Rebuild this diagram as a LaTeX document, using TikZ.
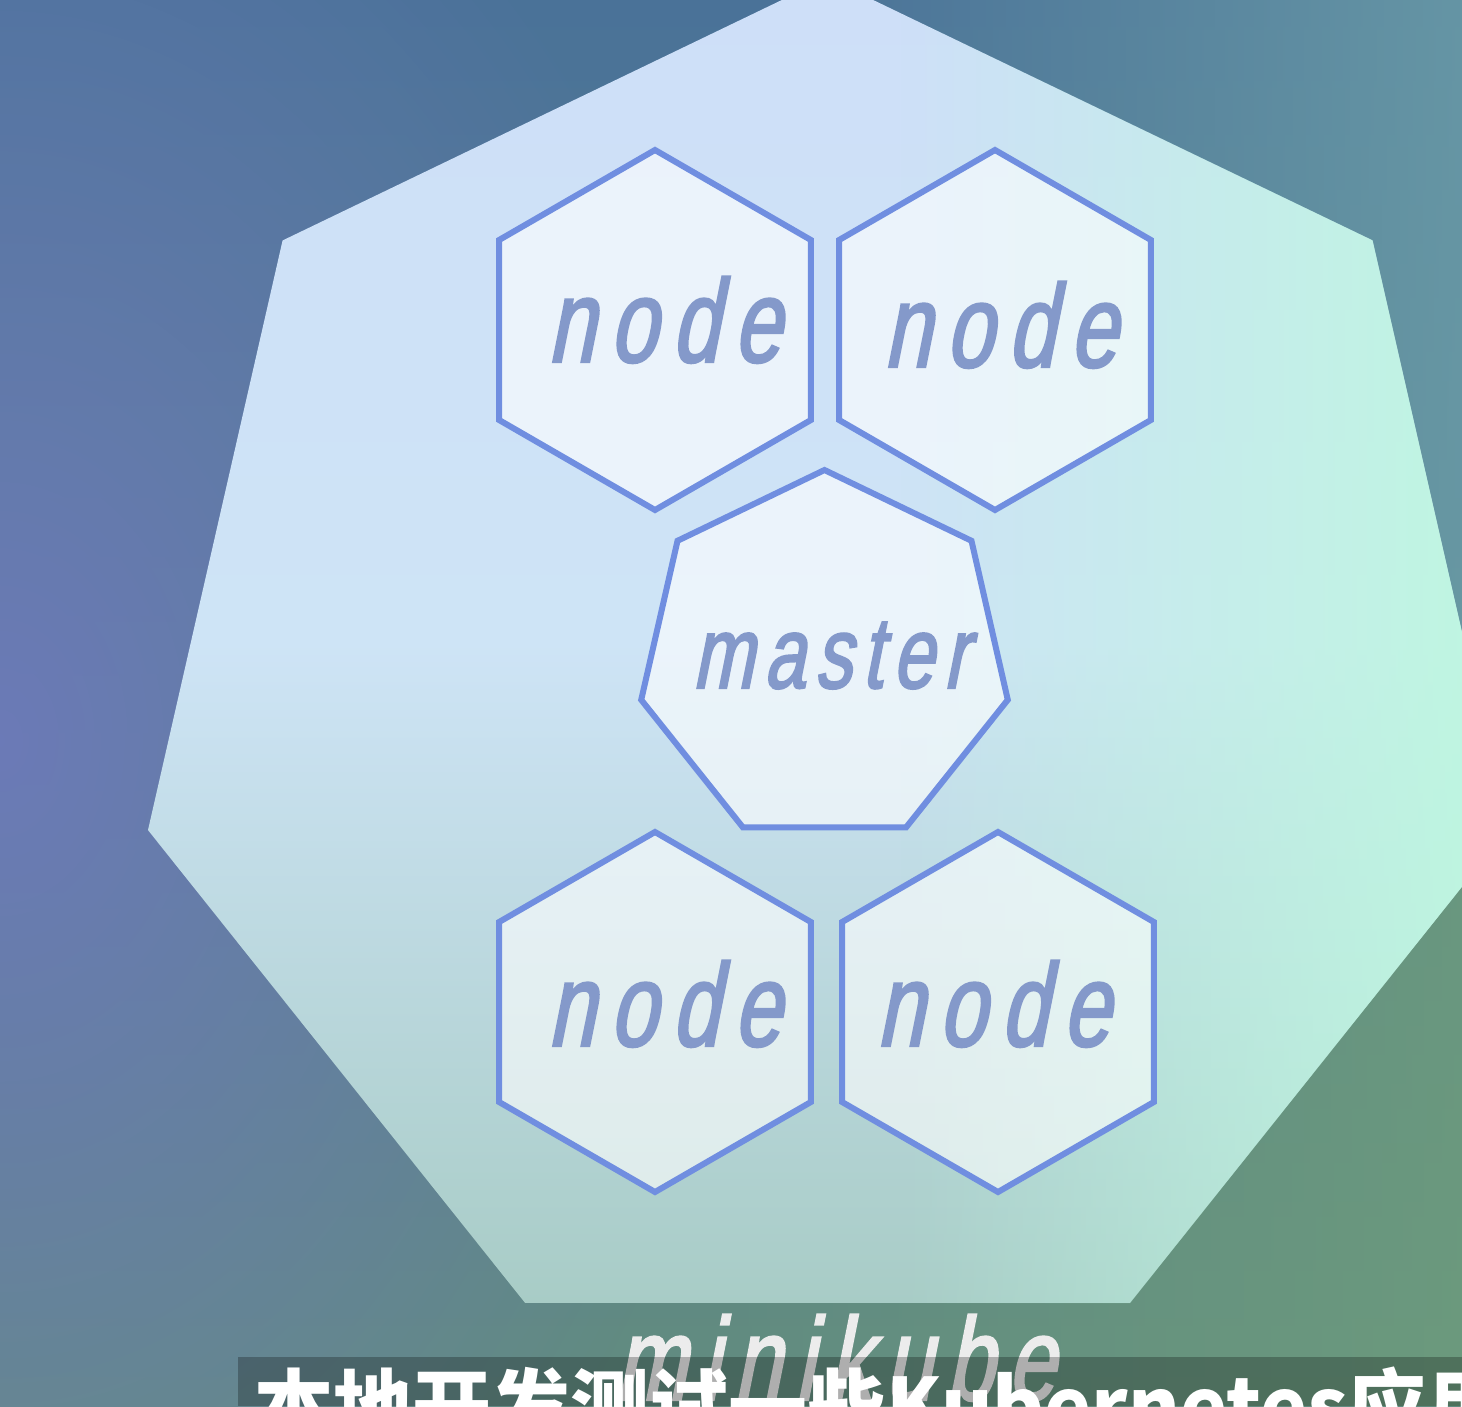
\documentclass[tikz,border=0pt]{standalone}
\usepackage{fontspec}
\usetikzlibrary{shapes.geometric,fadings}
\newfontfamily\kfont[FakeStretch=0.72,FakeSlant=0.2,FakeBold=2]{Liberation Sans}
\newfontfamily\cjkfont{Noto Sans CJK SC}
\definecolor{bgT}{RGB}{74,114,152}
\definecolor{bgB}{RGB}{98,140,128}
\definecolor{bgL}{RGB}{110,122,188}
\definecolor{bgTR}{RGB}{108,158,168}
\definecolor{bgBR}{RGB}{112,160,124}
\definecolor{clT}{RGB}{206,223,248}
\definecolor{clM}{RGB}{206,228,246}
\definecolor{clB}{RGB}{168,204,198}
\definecolor{mint}{RGB}{190,247,224}
\definecolor{edge}{RGB}{112,142,224}
\definecolor{lbl}{RGB}{132,153,202}
\definecolor{mkgray}{RGB}{236,236,236}
\tikzfading[name=fadeR, left color=transparent!0, right color=transparent!100]
\tikzfading[name=fadeL, left color=transparent!100, right color=transparent!0]
\tikzfading[name=glow, inner color=transparent!0, outer color=transparent!100]
\tikzset{
  hexnode/.style={regular polygon, regular polygon sides=6, rotate=30,
    minimum size=360pt, inner sep=0pt, draw=edge, line width=6pt,
    fill=white, fill opacity=0.6},
  masternode/.style={regular polygon, regular polygon sides=7,
    minimum size=376pt, inner sep=0pt, draw=edge, line width=6pt,
    fill=white, fill opacity=0.6},
  clusternode/.style={regular polygon, regular polygon sides=7,
    minimum size=1394pt, inner sep=0pt, top color=clT, bottom color=clB, middle color=clM},
  lbltext/.style={anchor=base, inner sep=0pt, text=lbl},
  nodefont/.style={font={\kfont\fontsize{118}{118}\selectfont\addfontfeature{LetterSpace=12.5}}},
}
\begin{document}
\begin{tikzpicture}[x=1pt,y=-1pt]
\useasboundingbox (0,0) rectangle (1462,1406);
\clip (0,0) rectangle (1462,1406);
% background
\shade[top color=bgT, bottom color=bgB] (0,0) rectangle (1462,1406);
\fill[bgL, path fading=glow, opacity=0.9] (0,740) ellipse [x radius=760pt, y radius=1050pt];
\fill[bgTR, path fading=fadeL, opacity=0.8] (800,0) rectangle (1462,700);
\fill[bgBR, path fading=fadeL, opacity=0.7] (700,700) rectangle (1462,1406);
% cluster heptagon
\node[clusternode] (cluster) at (827.5,675) {};
\begin{scope}
\clip (cluster.corner 1) -- (cluster.corner 2) -- (cluster.corner 3) -- (cluster.corner 4) -- (cluster.corner 5) -- (cluster.corner 6) -- (cluster.corner 7) -- cycle;
\fill[mint, path fading=fadeL] (900,0) rectangle (1520,1406);
\end{scope}
% nodes
\node[hexnode] (n1) at (655,330) {};
\node[hexnode] (n2) at (995,330) {};
\node[hexnode] (n3) at (655,1012) {};
\node[hexnode] (n4) at (998,1012) {};
\node[masternode] (m) at (824.5,658) {};
\node[lbltext, nodefont] (t1) at (664,362) {node};
\node[lbltext, nodefont] (t2) at (1000,367) {node};
\node[lbltext, nodefont] (t3) at (664,1046) {node};
\node[lbltext, nodefont] (t4) at (993,1046) {node};
\node[lbltext, font={\kfont\fontsize{102}{102}\selectfont\addfontfeature{LetterSpace=10}}] (tm) at (830,688) {master};
% minikube label
\node[anchor=base, inner sep=0pt, text=mkgray, font={\kfont\fontsize{118}{118}\selectfont\addfontfeature{LetterSpace=12}}] (mk) at (835,1400) {minikube};
% subtitle bar
\fill[black, opacity=0.26] (238,1357) rectangle (1462,1406);
\node[anchor=base west, inner sep=0pt, text=white, font={\cjkfont\bfseries\fontsize{79}{79}\selectfont}] (sub) at (254,1435) {本地开发测试一些Kubernetes应用};
\end{tikzpicture}
\end{document}
